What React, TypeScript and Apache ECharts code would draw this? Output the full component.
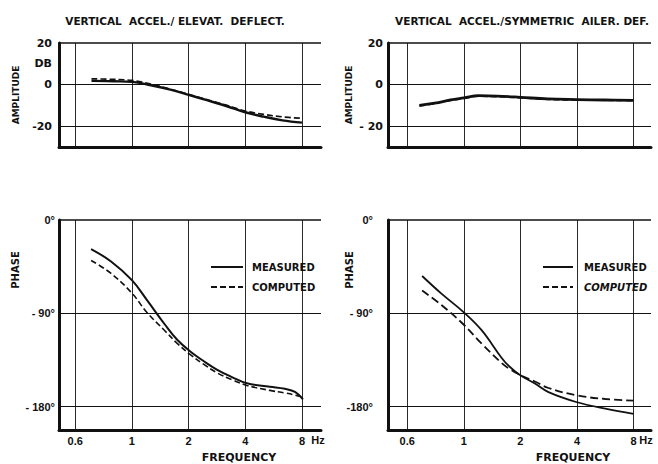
import React, { useEffect, useRef } from 'react';
import * as echarts from 'echarts';

// ---- Tick labels ----
const X_TICKS = [0.5, 1, 2, 4, 8];
const X_TICK_LABELS = ['0.6', '1', '2', '4', '8'];
const AMP_TICKS = [20, 10, 0, -20];
const AMP_LABELS_L = ['20', 'DB', '0', '-20'];
const AMP_LABELS_R = ['20', '', '0', '- 20'];
const PHASE_TICKS = [0, -90, -180];
const PHASE_LABELS_L = ['0°', '- 90°', '- 180°'];
const PHASE_LABELS_R = ['0°', '- 90°', '-180°'];
const AMP_GRIDLINES = [0, -20];
const PHASE_GRIDLINES = [-90, -180];

const TITLE_L = 'VERTICAL  ACCEL./ ELEVAT.  DEFLECT.';
const TITLE_R = 'VERTICAL  ACCEL./SYMMETRIC  AILER. DEF.';
const SERIES_NAMES = ['MEASURED', 'COMPUTED'];

// ---- Top-left: amplitude, elevator ----
const TL_FREQ = [0.61, 0.8, 1, 1.26, 1.6, 2, 2.5, 3.2, 4, 5, 6.3, 8];
const TL_MEAS = [1.8, 1.6, 1.3, -0.3, -2.4, -4.9, -7.5, -10.4, -13.3, -15.4, -17.2, -18.3];
const TL_COMP = [2.8, 2.5, 2.0, 0.3, -2.2, -4.7, -7.2, -10.0, -12.7, -14.3, -15.5, -16.2];

// ---- Top-right: amplitude, aileron ----
const TR_FREQ = [0.58, 0.7, 0.85, 1, 1.2, 1.5, 2, 2.8, 4, 5.6, 8];
const TR_MEAS = [-10.0, -8.9, -7.4, -6.4, -5.3, -5.5, -6.1, -6.9, -7.2, -7.4, -7.6];
const TR_COMP = [-10.3, -9.1, -7.6, -6.6, -5.6, -5.8, -6.3, -7.1, -7.4, -7.5, -7.7];

// ---- Bottom-left: phase, elevator ----
const BL_FREQ = [0.607, 0.775, 1, 1.2, 1.5, 1.74, 2.05, 2.4, 2.84, 3.4, 4.08, 5.4, 6.5, 7.35, 8.1];
const BL_MEAS = [-28, -40, -58, -77, -101, -115.5, -127, -136, -144.5, -151.5, -157.5, -160.8, -162.8, -165.8, -173];
const BL_COMP = [-39, -51.5, -70.5, -89, -107, -119, -130, -139, -147.5, -154, -159.5, -164.3, -166.8, -168.8, -171];

// ---- Bottom-right: phase, aileron ----
const BR_FREQ = [0.6, 0.76, 1, 1.24, 1.59, 1.73, 1.97, 2.4, 2.82, 3.96, 5.66, 8];
const BR_MEAS = [-54, -71, -89, -106, -133, -140.5, -149, -158, -166, -175.5, -182, -187];
const BR_COMP = [-68, -82, -101, -119, -138, -143, -149, -156, -162, -169, -172.6, -174.2];

const FONT_D = '"DejaVu Sans", sans-serif';
const FONT_L = '"Liberation Sans", Arial, sans-serif';
const INK = '#111';

function pairs(f: number[], v: number[]) {
  return f.map((x, i) => [x, v[i]]);
}

function labelFor(ticks: number[], labels: string[]) {
  return (v: number) => {
    const i = ticks.findIndex((t) => Math.abs(t - v) <= 1e-3 * Math.max(1, Math.abs(t)));
    return i >= 0 ? labels[i] : '';
  };
}

export default function App() {
  const ref = useRef<HTMLDivElement>(null);

  useEffect(() => {
    if (!ref.current) return;
    const chart = echarts.init(ref.current, undefined, { renderer: 'svg' });

    const grids = [
      { left: 59, top: 43, width: 262, height: 104 },
      { left: 388, top: 43, width: 263, height: 104 },
      { left: 59, top: 220, width: 262, height: 210 },
      { left: 388, top: 220, width: 263, height: 210 },
    ];
    const xRanges = [
      [0.41, 10.1],
      [0.395, 9.9],
      [0.41, 10.1],
      [0.395, 9.9],
    ];

    const xAxis = grids.map((_, i) => ({
      type: 'log',
      logBase: 2,
      gridIndex: i,
      min: xRanges[i][0],
      max: xRanges[i][1],
      axisLine: { show: true, onZero: false, lineStyle: { color: INK, width: 3 } },
      axisTick: { show: false },
      splitLine: {
        show: true,
        showMinLine: false,
        showMaxLine: false,
        lineStyle: { color: '#2a2a2a', width: 1 },
      },
      axisLabel: {
        show: i >= 2,
        margin: 5,
        color: INK,
        fontFamily: FONT_L,
        fontWeight: 'bold',
        fontSize: 11,
        formatter: labelFor(X_TICKS, X_TICK_LABELS),
      },
    }));

    const ampAxis = (i: number, labels: string[], margin: number, gap: number) => ({
      type: 'value',
      gridIndex: i,
      min: -30,
      max: 20,
      interval: 10,
      name: 'AMPLITUDE',
      nameLocation: 'middle',
      nameRotate: 90,
      nameGap: gap,
      nameTextStyle: { color: INK, fontFamily: FONT_D, fontWeight: 'bold', fontSize: 9 },
      axisLine: { show: true, onZero: false, lineStyle: { color: INK, width: 3 } },
      axisTick: { show: false },
      splitLine: { show: false },
      axisLabel: {
        margin,
        color: INK,
        fontFamily: FONT_D,
        fontWeight: 'bold',
        fontSize: 11,
        formatter: labelFor(AMP_TICKS, labels),
      },
    });

    const phaseAxis = (i: number, labels: string[], margin: number) => ({
      type: 'value',
      gridIndex: i,
      min: -202.5,
      max: 0,
      interval: 22.5,
      axisLine: { show: true, onZero: false, lineStyle: { color: INK, width: 3 } },
      axisTick: { show: false },
      splitLine: { show: false },
      axisLabel: {
        margin,
        color: INK,
        fontFamily: FONT_L,
        fontWeight: 'bold',
        fontSize: 11,
        formatter: labelFor(PHASE_TICKS, labels),
      },
    });

    const yAxis = [
      ampAxis(0, AMP_LABELS_L, 7, 39),
      ampAxis(1, AMP_LABELS_R, 5, 35),
      phaseAxis(2, PHASE_LABELS_L, 4),
      phaseAxis(3, PHASE_LABELS_R, 15),
    ];

    const gridMarks = (lines: number[], top: number) => ({
      symbol: ['none', 'none'],
      silent: true,
      label: { show: false },
      animation: false,
      data: [
        ...lines.map((v) => ({ yAxis: v, lineStyle: { color: INK, width: 1, type: 'solid' } })),
        { yAxis: top, lineStyle: { color: INK, width: 1.5, type: 'solid' } },
      ],
    });

    const panels = [
      { f: TL_FREQ, m: TL_MEAS, c: TL_COMP, lines: AMP_GRIDLINES, top: 20, mw: 2.4, cw: 1.7, dash: [6, 3] },
      { f: TR_FREQ, m: TR_MEAS, c: TR_COMP, lines: AMP_GRIDLINES, top: 20, mw: 2.8, cw: 1.7, dash: [6, 3] },
      { f: BL_FREQ, m: BL_MEAS, c: BL_COMP, lines: PHASE_GRIDLINES, top: 0, mw: 2, cw: 1.6, dash: [6, 3] },
      { f: BR_FREQ, m: BR_MEAS, c: BR_COMP, lines: PHASE_GRIDLINES, top: 0, mw: 1.8, cw: 1.8, dash: [8, 4] },
    ];

    const series: any[] = [];
    panels.forEach((p, i) => {
      series.push({
        type: 'line',
        name: SERIES_NAMES[0],
        xAxisIndex: i,
        yAxisIndex: i,
        data: pairs(p.f, p.m),
        smooth: 0.4,
        symbol: 'none',
        showSymbol: false,
        lineStyle: { color: INK, width: p.mw, type: 'solid' },
        itemStyle: { color: INK },
        markLine: gridMarks(p.lines, p.top),
        z: 3,
      });
      series.push({
        type: 'line',
        name: SERIES_NAMES[1],
        xAxisIndex: i,
        yAxisIndex: i,
        data: pairs(p.f, p.c),
        smooth: 0.4,
        symbol: 'none',
        showSymbol: false,
        lineStyle: { color: INK, width: p.cw, type: p.dash },
        itemStyle: { color: INK },
        z: 3,
      });
    });

    const legendText = {
      color: INK,
      fontFamily: FONT_D,
      fontWeight: 'bold',
      fontSize: 10,
      rich: {
        i: { color: INK, fontFamily: FONT_D, fontWeight: 'bold', fontStyle: 'italic', fontSize: 10 },
      },
    };

    const textEl = (text: string, x: number, y: number, size: number, family: string, rotation = 0) => ({
      type: 'text',
      x,
      y,
      rotation,
      silent: true,
      style: {
        text,
        fill: INK,
        fontFamily: family,
        fontWeight: 'bold',
        fontSize: size,
        align: 'center',
        verticalAlign: 'middle',
      },
    });

    const legendBase = {
      top: 257,
      orient: 'vertical',
      itemHeight: 10,
      itemGap: 10,
      selectedMode: false,
      data: SERIES_NAMES,
      itemStyle: { opacity: 0, borderWidth: 0 },
      lineStyle: { color: INK },
    };

    chart.setOption({
      animation: false,
      backgroundColor: '#ffffff',
      grid: grids,
      xAxis,
      yAxis,
      series,
      legend: [
        {
          ...legendBase,
          left: 205,
          itemWidth: 32,
          textStyle: { ...legendText, padding: [0, 0, 0, 4] },
        },
        {
          ...legendBase,
          left: 537,
          itemWidth: 30,
          formatter: (n: string) => (n === 'COMPUTED' ? '{i|COMPUTED}' : n),
          textStyle: { ...legendText, padding: [0, 0, 0, 6] },
        },
      ],
      graphic: [
        textEl(TITLE_L, 175, 21, 10.5, FONT_D),
        textEl(TITLE_R, 522, 21, 10.5, FONT_D),
        textEl('PHASE', 15, 270, 10, FONT_D, Math.PI / 2),
        textEl('PHASE', 349, 270, 10, FONT_D, Math.PI / 2),
        textEl('FREQUENCY', 239, 457, 11, FONT_D),
        textEl('FREQUENCY', 573, 457, 11, FONT_D),
        textEl('Hz', 318, 440, 11, FONT_L),
        textEl('Hz', 646, 440, 11, FONT_L),
      ],
    });

    return () => {
      chart.dispose();
    };
  }, []);

  return (
    <div
      ref={ref}
      style={{ position: 'fixed', left: 0, top: 0, width: 658, height: 464, background: '#fff' }}
    />
  );
}
